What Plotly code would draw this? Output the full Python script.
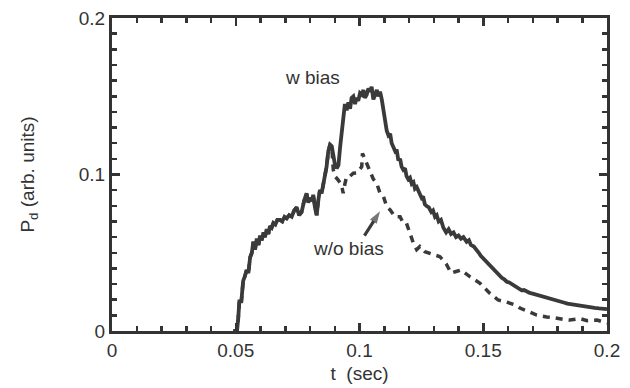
import plotly.graph_objects as go

# --- data ---
t_bias = [0.049, 0.0505, 0.051, 0.0515, 0.0522, 0.053, 0.0537, 0.0544, 0.0551, 0.0558,
          0.0565, 0.0571, 0.0578, 0.0585, 0.0592, 0.0598, 0.0605, 0.0612, 0.0618, 0.0625,
          0.0632, 0.0638, 0.0645, 0.0652, 0.066, 0.0668, 0.0679, 0.0688, 0.0697, 0.0706,
          0.0716, 0.0726, 0.0736, 0.0746, 0.0756, 0.0766, 0.0776, 0.0786, 0.0793, 0.080,
          0.0807, 0.0813, 0.082, 0.0827, 0.0834, 0.084, 0.0847, 0.0854, 0.086, 0.0867,
          0.0874, 0.0881, 0.0888, 0.0895, 0.090, 0.0908, 0.0915, 0.0922, 0.0928, 0.0935,
          0.0941, 0.0948, 0.0955, 0.0962, 0.0968, 0.0975, 0.0982, 0.0988, 0.0995, 0.1002,
          0.1009, 0.1016, 0.1022, 0.1029, 0.1036, 0.1042, 0.1049, 0.1056, 0.1063, 0.107,
          0.1076, 0.1083, 0.109, 0.1097, 0.1103, 0.111, 0.1117, 0.1124, 0.113, 0.1137,
          0.1144, 0.115, 0.1157, 0.1164, 0.117, 0.1177, 0.1184, 0.119, 0.1197, 0.1204,
          0.1211, 0.1218, 0.1224, 0.1231, 0.1238, 0.1244, 0.1251, 0.1257, 0.1264, 0.127,
          0.128, 0.129, 0.1297, 0.1305, 0.1312, 0.132, 0.1329, 0.1339, 0.135, 0.136,
          0.137, 0.138, 0.139, 0.140, 0.141, 0.142, 0.1433, 0.1442, 0.145, 0.1462,
          0.1474, 0.1482, 0.149, 0.1502, 0.1514, 0.1524, 0.1534, 0.1544, 0.1554, 0.1565,
          0.1575, 0.1585, 0.1595, 0.1605, 0.1615, 0.1625, 0.1635, 0.1645, 0.1655, 0.1665,
          0.1676, 0.1686, 0.1696, 0.1706, 0.1716, 0.1726, 0.1736, 0.1746, 0.1756, 0.1768,
          0.178, 0.1795, 0.181, 0.1825, 0.184, 0.1852, 0.1864, 0.1877, 0.189, 0.1904,
          0.1918, 0.1934, 0.195, 0.1968, 0.1985, 0.2]
p_bias = [0.0, 0.0, 0.008, 0.02, 0.018, 0.032, 0.035, 0.039, 0.037, 0.047,
          0.05, 0.057, 0.052, 0.059, 0.055, 0.061, 0.058, 0.063, 0.06, 0.065,
          0.062, 0.067, 0.066, 0.069, 0.068, 0.071, 0.071, 0.070, 0.073, 0.072,
          0.074, 0.073, 0.077, 0.079, 0.074, 0.076, 0.083, 0.088, 0.082, 0.085,
          0.083, 0.087, 0.079, 0.074, 0.084, 0.09, 0.088, 0.094, 0.097, 0.105,
          0.115, 0.119, 0.118, 0.112, 0.107, 0.104, 0.106, 0.118, 0.126, 0.138,
          0.145, 0.141, 0.146, 0.142, 0.149, 0.150, 0.145, 0.149, 0.147, 0.152,
          0.151, 0.154, 0.149, 0.151, 0.155, 0.153, 0.156, 0.148, 0.152, 0.154,
          0.150, 0.153, 0.148, 0.140, 0.133, 0.128, 0.125, 0.126, 0.12, 0.118,
          0.115, 0.116, 0.109, 0.110, 0.105, 0.103, 0.104, 0.099, 0.097, 0.098,
          0.094, 0.095, 0.091, 0.092, 0.089, 0.088, 0.085, 0.086, 0.081, 0.080,
          0.079, 0.076, 0.077, 0.073, 0.074, 0.070, 0.071, 0.066, 0.063, 0.065,
          0.062, 0.063, 0.060, 0.061, 0.059, 0.060, 0.057, 0.058, 0.055, 0.054,
          0.052, 0.050, 0.048, 0.046, 0.044, 0.042, 0.040, 0.039, 0.037, 0.035,
          0.034, 0.033, 0.0315, 0.031, 0.030, 0.029, 0.028, 0.027, 0.026, 0.0262,
          0.025, 0.0245, 0.024, 0.0235, 0.023, 0.0226, 0.022, 0.0218, 0.021, 0.0205,
          0.020, 0.0195, 0.0187, 0.0182, 0.0175, 0.0172, 0.0166, 0.0164, 0.016, 0.0155,
          0.015, 0.0149, 0.0147, 0.0144, 0.0145, 0.014]

t_nobias_tail = [0.0894, 0.090, 0.0914, 0.0928, 0.0934, 0.0941, 0.0948, 0.0962, 0.0975, 0.099,
                 0.1009, 0.1012, 0.1016, 0.1029, 0.1042, 0.1056, 0.107, 0.1083, 0.1097, 0.111,
                 0.1124, 0.1144, 0.1164, 0.1177, 0.119, 0.1204, 0.1218, 0.1231, 0.1244, 0.1264,
                 0.1285, 0.1305, 0.1325, 0.135, 0.137, 0.139, 0.141, 0.1446, 0.1487, 0.1527,
                 0.156, 0.159, 0.163, 0.165, 0.1696, 0.1716, 0.1756, 0.178, 0.1824, 0.185,
                 0.189, 0.192, 0.196, 0.2]
p_nobias_tail = [0.103, 0.099, 0.0965, 0.093, 0.088, 0.094, 0.0986, 0.099, 0.1008, 0.101,
                 0.105, 0.1135, 0.112, 0.107, 0.101, 0.097, 0.0943, 0.088, 0.0858, 0.0794,
                 0.0773, 0.073, 0.073, 0.0688, 0.0688, 0.0624, 0.056, 0.052, 0.054, 0.0507,
                 0.0496, 0.048, 0.0475, 0.043, 0.037, 0.038, 0.039, 0.0347, 0.0305, 0.024,
                 0.0198, 0.0187, 0.0166, 0.0145, 0.0113, 0.0102, 0.009, 0.0087, 0.0074, 0.007,
                 0.008, 0.0066, 0.007, 0.005]

# w/o bias coincides with w bias until the curves split near t = 0.089
split = sum(1 for v in t_bias if v <= 0.0888)
t_nobias = t_bias[:split] + t_nobias_tail
p_nobias = p_bias[:split] + p_nobias_tail

# pointer from the "w/o bias" label to its curve (tail, head)
arrow_t = [0.1020, 0.1083]
arrow_p = [0.0610, 0.0765]

x_ticks = [0, 0.05, 0.1, 0.15, 0.2]
x_labels = ["0", "0.05", "0.1", "0.15", "0.2"]
y_ticks = [0, 0.1, 0.2]
y_labels = ["0", "0.1", "0.2"]

ink = "#3a3a3a"
font = dict(family="Liberation Sans, Arial, sans-serif", size=19, color="#333333")

fig = go.Figure()
fig.add_trace(go.Scatter(x=t_nobias, y=p_nobias, mode="lines",
                         line=dict(color=ink, width=3.5, dash="7px,6px"), showlegend=False,
                         hoverinfo="skip"))
fig.add_trace(go.Scatter(x=t_bias, y=p_bias, mode="lines",
                         line=dict(color=ink, width=3.8), showlegend=False, hoverinfo="skip"))
fig.add_trace(go.Scatter(x=arrow_t, y=arrow_p, mode="lines+markers",
                         line=dict(color=ink, width=3.2),
                         marker=dict(symbol=["circle", "arrow"], size=[0, 13], angleref="previous",
                                     color=ink, line=dict(width=0)),
                         showlegend=False, hoverinfo="skip"))

axis_common = dict(showline=True, linewidth=3, linecolor="#333333", mirror="ticks",
                   ticks="inside", ticklen=8, tickwidth=2.5, tickcolor="#333333",
                   showgrid=False, zeroline=False, tickfont=font, automargin=False)

fig.update_xaxes(range=[0, 0.2], tickvals=x_ticks, ticktext=x_labels,
                 minor=dict(dtick=0.01, ticks="inside", ticklen=5, tickwidth=2.5, tickcolor="#333333"),
                 title=dict(text="t  (sec)", font=font, standoff=7), **axis_common)
fig.update_yaxes(range=[0, 0.2], tickvals=y_ticks, ticktext=y_labels,
                 minor=dict(dtick=0.01, ticks="inside", ticklen=5, tickwidth=2.5, tickcolor="#333333"),
                 title=dict(text="P<sub>d</sub> (arb. units)", font=font, standoff=40), **axis_common)

fig.add_annotation(x=0.0812, y=0.1623, text="w bias", showarrow=False, font=font)
fig.add_annotation(x=0.0954, y=0.0524, text="w/o bias", showarrow=False, font=font)

fig.update_layout(width=630, height=388, margin=dict(l=112, r=23, t=18, b=57),
                  plot_bgcolor="white", paper_bgcolor="white", font=font)

fig.write_html("out.html", config={"displayModeBar": False, "staticPlot": True},
               post_script="document.body.style.margin='0';document.body.style.overflow='hidden';")
